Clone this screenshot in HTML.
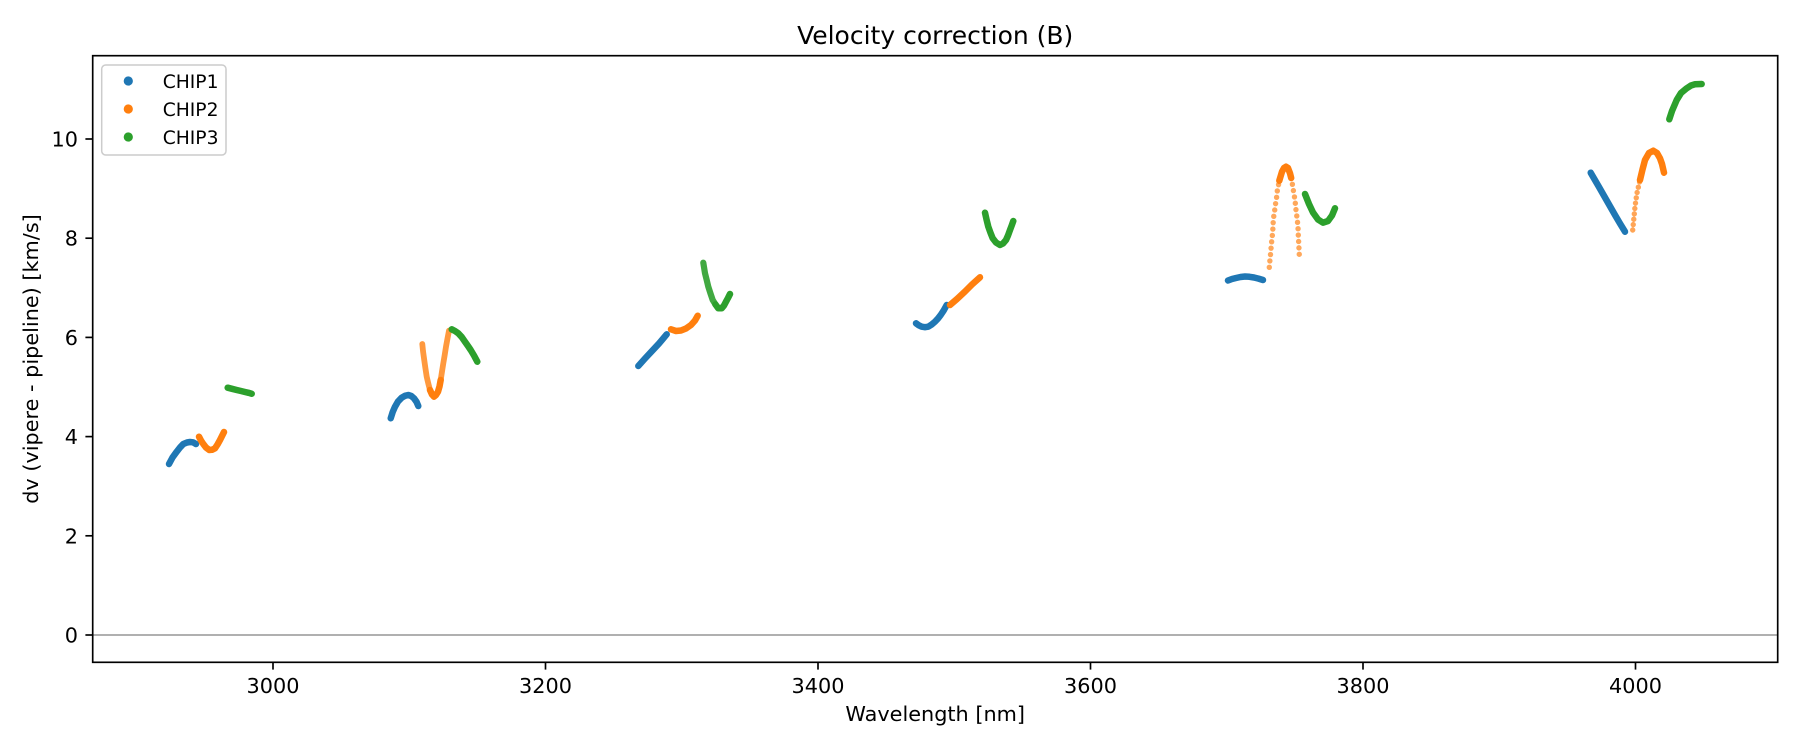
<!DOCTYPE html>
<html>
<head>
<meta charset="utf-8">
<style>
  html, body { margin: 0; padding: 0; background: #ffffff; }
  svg { display: block; }
  text { font-family: "DejaVu Sans", "Liberation Sans", sans-serif; fill: #000; }
</style>
</head>
<body>
<svg width="1800" height="750" viewBox="0 0 1800 750" xmlns="http://www.w3.org/2000/svg">
  <rect x="0" y="0" width="1800" height="750" fill="#ffffff"/>

  <!-- zero line -->
  <line x1="92.7" y1="635" x2="1777.7" y2="635" stroke="#808080" stroke-width="1.3"/>

  <g fill="none" stroke-linecap="round" stroke-linejoin="round">
    <!-- Group 1 -->
    <polyline stroke="#1f77b4" stroke-width="6.5" points="169,464 172.5,457.5 176.7,451.7 180,447.5 183.3,444 187,442.5 190,442 193,442.3 196,444"/>
    <polyline stroke="#ff7f0e" stroke-width="6.5" points="199,436.7 201,440.5 203.3,444 206,447.5 209.3,450 212,449.8 215,448.3 217.5,444.5 220,440 222,436 224,432"/>
    <polyline stroke="#2ca02c" stroke-width="6.5" points="227.7,387.7 232,388.8 236.7,390 241,391 245,392 248.5,392.8 251.7,393.7"/>

    <!-- Group 2 -->
    <polyline stroke="#1f77b4" stroke-width="6.5" points="390.7,418.3 392.7,412 395,406.7 398,401.5 401.7,397.7 405,395.8 408.3,395 411.3,396 414,398.3 416.5,401.8 418.3,406"/>
    <polyline stroke="#ff7f0e" stroke-width="5.8" stroke-opacity="0.8" points="422.3,344 423,351 424,358.3 425.3,367.5 426.7,376.7 428.3,383.5 430,390"/>
    <polyline stroke="#ff7f0e" stroke-width="6.5" points="430,390 432,394.5 434,396.7 436,395 438,391.7 439.5,386.5 440.7,380"/>
    <polyline stroke="#ff7f0e" stroke-width="5.8" stroke-opacity="0.8" points="440.7,380 442,371.5 443.3,363.3 444.7,355 446,346.7 447.5,338.5 449,330.7"/>
    <polyline stroke="#2ca02c" stroke-width="6.5" points="451.7,329.3 455,331 458.3,333.3 461.7,337 465,341.7 468,346 470.7,350 474,355.5 477.3,361.7"/>

    <!-- Group 3 -->
    <polyline stroke="#1f77b4" stroke-width="6.5" points="638.3,366 645,358.5 652,351 659,343.5 662.8,339 666.7,334.3"/>
    <polyline stroke="#ff7f0e" stroke-width="6.5" points="671,329.3 676,331 681,330.5 686,328.5 691,325 695,320.5 697.7,315.7"/>
    <polyline stroke="#2ca02c" stroke-width="6.2" stroke-opacity="0.9" points="703.3,262.7 705,273.3 706.7,280 708.3,286.7 710.5,293.5 712.7,300 715.5,304.5"/>
    <polyline stroke="#2ca02c" stroke-width="6.5" points="715.5,304.5 718.3,308.3 721.7,308.3 724,305.5 726,301.7 728,298 730,294"/>

    <!-- Group 4 -->
    <polyline stroke="#1f77b4" stroke-width="6.5" points="916,323.3 918.8,325.3 921.7,326.7 925,327.2 928.3,326.7 931.7,324.5 935,321.7 938,318.5 940.7,315 943.8,310.3 946.7,305"/>
    <polyline stroke="#ff7f0e" stroke-width="6.5" points="950,305 957,299 965,291.5 972,284.5 980,277.3"/>
    <polyline stroke="#2ca02c" stroke-width="6.5" points="985,212.7 986.6,219.8 988.3,226.7 990.5,232.8 992.7,238.3 996,242.5 1000,245 1003,243.5 1006,240 1008,235.5 1010,230 1011.7,225.5 1013.3,221"/>

    <!-- Group 5 -->
    <polyline stroke="#1f77b4" stroke-width="6.5" points="1228,280.5 1232,279 1236,278 1240.5,277 1245,276.5 1249.5,276.8 1254,277.5 1258.5,278.6 1263,280"/>
    <polyline stroke="#ff7f0e" stroke-width="5.4" stroke-opacity="0.68" stroke-dasharray="0 6.4" points="1269.3,267.3 1270,259.3 1270.7,252.7 1271.3,245 1272,238.3 1272.7,232.3 1273,226 1273.3,220.3 1274,214.3 1275,208.3 1275.7,202.7 1276.7,196.7 1277.3,191 1278.3,186 1279.3,180.7"/>
    <polyline stroke="#ff7f0e" stroke-width="6.5" points="1279.3,180.7 1280.7,176 1282,171.7 1284,168 1286,166.7 1288,168 1290,173.3 1291.2,178"/>
    <polyline stroke="#ff7f0e" stroke-width="5.4" stroke-opacity="0.68" stroke-dasharray="0 6.4" points="1291.2,178 1291.7,180 1293.3,190 1295,200 1296,210 1297.3,220 1298,227 1298.3,235 1298.8,245 1299.3,255"/>
    <polyline stroke="#2ca02c" stroke-width="6.5" points="1305,194 1309,204 1313,212.5 1318,219.5 1323,222.7 1328,221 1332,215.5 1335,208.3"/>

    <!-- Group 6 -->
    <polyline stroke="#1f77b4" stroke-width="6.5" points="1590.7,172.7 1599,187 1607,201 1615,215 1620,223.5 1625,231.7"/>
    <polyline stroke="#ff7f0e" stroke-width="5.4" stroke-opacity="0.7" stroke-dasharray="0 5.4" points="1632.7,230 1633.5,222 1634.3,214 1635,206.7 1636,199.5 1637,193 1638.5,186.5 1640,180"/>
    <polyline stroke="#ff7f0e" stroke-width="6.5" points="1640,180 1642.5,169.5 1645,160 1649,153 1653.3,150.7 1657,153 1660,158.3 1662,164 1664,172.7"/>
    <polyline stroke="#2ca02c" stroke-width="6.5" points="1669.3,119.3 1672,111 1676.7,100 1681,93 1686.7,88.3 1691,85.5 1695,84.3 1701.7,84"/>
  </g>

  <!-- axes spines -->
  <rect x="92.7" y="55.7" width="1685" height="606.6" fill="none" stroke="#000" stroke-width="1.67"/>

  <!-- x ticks -->
  <g stroke="#000" stroke-width="1.67">
    <line x1="273" y1="662.3" x2="273" y2="669.6"/>
    <line x1="545.5" y1="662.3" x2="545.5" y2="669.6"/>
    <line x1="818" y1="662.3" x2="818" y2="669.6"/>
    <line x1="1090.5" y1="662.3" x2="1090.5" y2="669.6"/>
    <line x1="1363" y1="662.3" x2="1363" y2="669.6"/>
    <line x1="1635.5" y1="662.3" x2="1635.5" y2="669.6"/>
  </g>
  <g font-size="20.8" text-anchor="middle">
    <text x="273" y="693">3000</text>
    <text x="545.5" y="693">3200</text>
    <text x="818" y="693">3400</text>
    <text x="1090.5" y="693">3600</text>
    <text x="1363" y="693">3800</text>
    <text x="1635.5" y="693">4000</text>
  </g>

  <!-- y ticks -->
  <g stroke="#000" stroke-width="1.67">
    <line x1="85.4" y1="635" x2="92.7" y2="635"/>
    <line x1="85.4" y1="535.8" x2="92.7" y2="535.8"/>
    <line x1="85.4" y1="436.6" x2="92.7" y2="436.6"/>
    <line x1="85.4" y1="337.4" x2="92.7" y2="337.4"/>
    <line x1="85.4" y1="238.2" x2="92.7" y2="238.2"/>
    <line x1="85.4" y1="139" x2="92.7" y2="139"/>
  </g>
  <g font-size="20.8" text-anchor="end">
    <text x="78" y="642.5">0</text>
    <text x="78" y="543.3">2</text>
    <text x="78" y="444.1">4</text>
    <text x="78" y="344.9">6</text>
    <text x="78" y="245.7">8</text>
    <text x="78" y="146.5">10</text>
  </g>

  <!-- labels -->
  <text x="935.2" y="44" font-size="25" text-anchor="middle">Velocity correction (B)</text>
  <text x="935.2" y="721" font-size="20.8" text-anchor="middle">Wavelength [nm]</text>
  <text transform="translate(38,359) rotate(-90)" font-size="20.8" text-anchor="middle">dv (vipere - pipeline) [km/s]</text>

  <!-- legend -->
  <rect x="101.7" y="65" width="124.3" height="90" rx="4" ry="4" fill="#ffffff" fill-opacity="0.8" stroke="#cccccc" stroke-width="1.5"/>
  <circle cx="128.3" cy="81" r="4.6" fill="#1f77b4"/>
  <circle cx="128.3" cy="109" r="4.6" fill="#ff7f0e"/>
  <circle cx="128.3" cy="137" r="4.6" fill="#2ca02c"/>
  <g font-size="18.7">
    <text x="162.7" y="88">CHIP1</text>
    <text x="162.7" y="116">CHIP2</text>
    <text x="162.7" y="144">CHIP3</text>
  </g>
</svg>
</body>
</html>
